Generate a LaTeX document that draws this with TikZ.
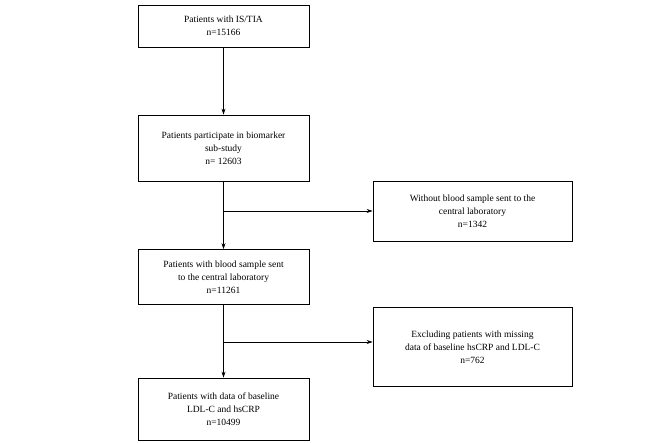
\documentclass[tikz,border=0pt]{standalone}
\usepackage{fontspec}
\setmainfont{Liberation Serif}
\usetikzlibrary{arrows.meta}
\begin{document}
\begin{tikzpicture}[x=1pt,y=-1pt,
  box/.style={draw,thick,align=center,font=\fontsize{9.5}{13}\selectfont,inner sep=0pt},
  arr/.style={-{Stealth[length=6pt,width=4pt]},semithick}]
\useasboundingbox (0,0) rectangle (662,443);
\node[box,minimum width=171,minimum height=42] (a) at (223.5,26) {Patients with IS/TIA\\n=15166};
\node[box,minimum width=171,minimum height=66] (b) at (223.5,148) {Patients participate in biomarker\\sub-study\\n= 12603};
\node[box,minimum width=199,minimum height=60] (c) at (472.5,211) {Without blood sample sent to the\\central laboratory\\n=1342};
\node[box,minimum width=171,minimum height=55] (d) at (223.5,277) {Patients with blood sample sent\\to the central laboratory\\n=11261};
\node[box,minimum width=199,minimum height=79] (e) at (472.5,347) {Excluding patients with missing\\data of baseline hsCRP and LDL-C\\n=762};
\node[box,minimum width=171,minimum height=62] (f) at (223.5,409) {Patients with data of baseline\\LDL-C and hsCRP\\n=10499};
\draw[arr] (a) -- (b);
\draw[arr] (b) -- (d);
\draw[arr] (d) -- (f);
\coordinate (j1) at (223.5,211);
\coordinate (j2) at (223.5,342);
\draw[arr] (j1) -- (c.west|-j1);
\draw[arr] (j2) -- (e.west|-j2);
\end{tikzpicture}
\end{document}
